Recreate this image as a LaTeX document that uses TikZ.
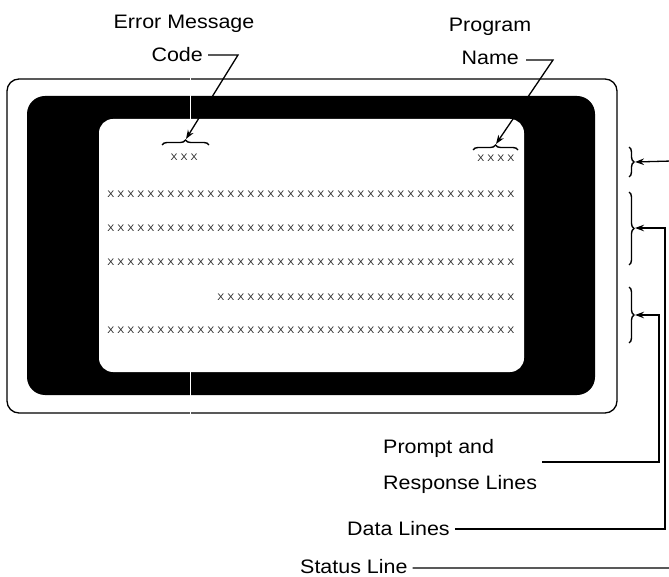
\documentclass[tikz,border=0pt]{standalone}
\usepackage{fontspec}
\setmainfont{Liberation Sans}[FakeStretch=1.1]
\usetikzlibrary{arrows.meta,decorations.pathreplacing,calc}
\newcommand\xxrow[1]{\foreach\k in {1,...,#1}{\makebox[10pt]{X}}}
\tikzset{
  lab/.style={font=\fontsize{19.5}{36}\selectfont, inner sep=0pt},
  xrow/.style={font=\fontsize{9.5}{10}\selectfont, inner sep=0pt, text=black!85},
  lead/.style={line width=1.3pt},
  arr/.style={lead, -{Stealth[length=9pt,width=6.5pt]}},
  brc/.style={decorate, decoration={brace, amplitude=5pt}, line width=1.4pt},
}
\begin{document}
\begin{tikzpicture}[x=1pt,y=-1pt]
\useasboundingbox (0,0) rectangle (669,577);
% terminal
\draw[line width=1.3pt, rounded corners=12pt] (7,79) rectangle (617,413);
\fill[black, rounded corners=18pt] (27,96) rectangle (595,395);
\fill[white, rounded corners=14pt] (99,119) rectangle (524,372);
\draw[white, line width=1pt] (190,74) -- (190,420);
% screen text
\node[xrow] (ecode) at (184,157) {\xxrow{3}};
\node[xrow, anchor=east] (pname) at (516,158) {\xxrow{4}};
\node[xrow, anchor=east] (r1) at (516,194) {\xxrow{41}};
\node[xrow, anchor=east] (r2) at (516,228) {\xxrow{41}};
\node[xrow, anchor=east] (r3) at (516,262) {\xxrow{41}};
\node[xrow, anchor=east] (r4) at (516,297) {\xxrow{30}};
\node[xrow, anchor=east] (r5) at (516,330) {\xxrow{41}};
% braces
\draw[brc] (162,145) -- (209,145);
\coordinate (cb) at (186,139);
\draw[brc] (473,150) -- (518,150);
\coordinate (pb) at (496,144);
\draw[brc] (629,147) -- (629,177);
\coordinate (sb) at (635,162);
\draw[brc] (629,192) -- (629,265);
\coordinate (db) at (635,228);
\draw[brc] (629,287) -- (629,343);
\coordinate (ppb) at (635,315);
% labels
\node[lab] (err) at (184,24) {Error Message};
\node[lab, anchor=east] (code) at (203,55) {Code};
\node[lab] (prog) at (490,27) {Program};
\node[lab, anchor=east] (name) at (519,58) {Name};
\node[lab, anchor=west, align=left] (pr) at (383,466) {Prompt and\\Response Lines};
\node[lab, anchor=west] (dl) at (347,529) {Data Lines};
\node[lab, anchor=west] (sl) at (300,567) {Status Line};
% leaders
\draw[arr] (code.east) ++(5,0) -- (238,55) -- (cb);
\draw[arr] (name.east) ++(7,2) -- (553,60) -- (pb);
\draw[arr] (pr.east) ++(5,-4) -| (659,315) -- (ppb);
\draw[arr] (dl.east) ++(5,0) -| (665,228) -- (db);
\draw[arr] (sl.east) ++(5,1) -| (672,161) -- (sb);
\end{tikzpicture}
\end{document}
